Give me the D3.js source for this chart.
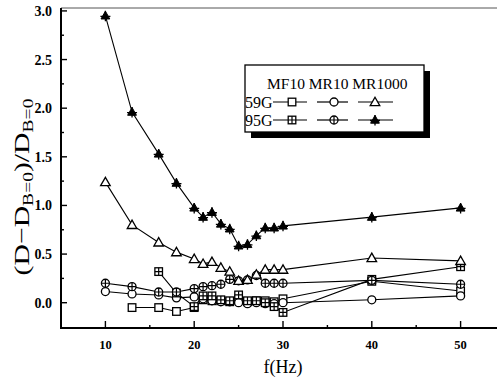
<!DOCTYPE html>
<html>
<head>
<meta charset="utf-8">
<script src="https://cdn.jsdelivr.net/npm/d3@7"></script>
<style>
  body{margin:0;background:#fff;}
  text{font-family:"Liberation Serif","DejaVu Serif",serif;fill:#000;}
</style>
</head>
<body>
<svg class="chart"></svg>
<script>
// frequencies (Hz)
var freqAll = [10,13,16,18,20,21,22,23,24,25,26,27,28,29,30,40,50];
var freqMF59 = [13,16,18,20,21,22,23,24,25,26,27,28,29,30,40,50];
var freqMF95 = [16,18,20,21,22,23,24,25,26,27,28,29,30,40,50];

// (D-D_B=0)/D_B=0 values
var mf10_59G = [-0.05,-0.05,-0.09,-0.05,0.03,0.02,0.02,0.01,0.03,0.01,0.02,0.02,0.01,0.04,0.22,0.12];
var mf10_95G = [0.32,0.10,-0.04,0.07,0.07,0.03,0.02,0.08,0.02,0.02,0.00,-0.04,-0.10,0.24,0.37];
var mr10_59G = [0.115,0.09,0.08,0.05,0.06,0.04,0.02,0.01,0.01,0.00,-0.01,0.00,-0.01,-0.01,0.00,0.03,0.07];
var mr10_95G = [0.20,0.165,0.11,0.11,0.145,0.165,0.175,0.19,0.24,0.225,0.235,0.28,0.20,0.20,0.20,0.23,0.19];
var mr1000_59G = [1.24,0.80,0.62,0.52,0.45,0.40,0.42,0.36,0.32,0.225,0.235,0.29,0.34,0.34,0.34,0.46,0.43];
var mr1000_95G = [2.95,1.96,1.53,1.23,0.975,0.88,0.93,0.81,0.76,0.585,0.60,0.69,0.77,0.77,0.79,0.88,0.975];

var xMajor = [10,20,30,40,50];
var xMinor = [15,25,35,45];
var yMajor = [0,0.5,1,1.5,2,2.5,3];
var yMinor = [0.25,0.75,1.25,1.75,2.25,2.75];

var legendCols = ["MF10 MR10 MR1000"];
var legendRows = ["59G","95G"];

var series = [
  {freq:freqMF59, vals:mf10_59G, mark:"square"},
  {freq:freqAll, vals:mr10_59G, mark:"circle"},
  {freq:freqMF95, vals:mf10_95G, mark:"squareX"},
  {freq:freqAll, vals:mr10_95G, mark:"circleX"},
  {freq:freqAll, vals:mr1000_59G, mark:"tri"},
  {freq:freqAll, vals:mr1000_95G, mark:"triX"}
];

var width = 497, height = 379;
var pLeft = 61, pRight = 505, pTop = 8, pBottom = 328;

var svg = d3.select(".chart").attr("width",width).attr("height",height);

var x = d3.scaleLinear().domain([5,55]).range([pLeft,pRight]);
var y = d3.scaleLinear().domain([-0.26,3.03]).range([pBottom,pTop]);

// frame
svg.append("line").attr("x1",pLeft).attr("x2",width).attr("y1",pTop).attr("y2",pTop)
  .attr("stroke","#555").attr("stroke-width",1);

// inward ticks
function ticksX(vals,len){
  svg.selectAll(null).data(vals).enter().append("line")
    .attr("x1",function(d){return x(d);}).attr("x2",function(d){return x(d);})
    .attr("y1",pBottom).attr("y2",pBottom-len)
    .attr("stroke","#000").attr("stroke-width",1.4);
}
function ticksY(vals,len){
  svg.selectAll(null).data(vals).enter().append("line")
    .attr("y1",function(d){return y(d);}).attr("y2",function(d){return y(d);})
    .attr("x1",pLeft).attr("x2",pLeft+len)
    .attr("stroke","#000").attr("stroke-width",1.4);
}
ticksX(xMajor,7);
ticksX(xMinor,3);
ticksY(yMajor,6);
ticksY(yMinor,3);

svg.append("line").attr("x1",pLeft-1).attr("x2",width).attr("y1",pBottom).attr("y2",pBottom)
  .attr("stroke","#000").attr("stroke-width",2);
svg.append("line").attr("x1",pLeft).attr("x2",pLeft).attr("y1",pTop).attr("y2",pBottom+1)
  .attr("stroke","#000").attr("stroke-width",2);

svg.selectAll(".xlab").data(xMajor).enter().append("text")
  .attr("class","xlab")
  .attr("x",function(d){return x(d);})
  .attr("y",pBottom+21)
  .attr("text-anchor","middle")
  .attr("font-size","12.5px")
  .attr("font-weight","bold")
  .text(function(d){return d;});

svg.selectAll(".ylab").data(yMajor).enter().append("text")
  .attr("class","ylab")
  .attr("x",pLeft-9)
  .attr("y",function(d){return y(d)+5;})
  .attr("text-anchor","end")
  .attr("font-size","14px")
  .attr("font-weight","bold")
  .text(function(d){return d3.format(".1f")(d);});

// axis titles
svg.append("text").attr("x",283).attr("y",373).attr("text-anchor","middle")
  .attr("font-size","18px").text("f(Hz)");

var yt = svg.append("text")
  .attr("transform","translate(29,187) rotate(-90) scale(1.35,1)")
  .attr("text-anchor","middle")
  .attr("font-size","22px");
yt.append("tspan").text("(D\u2212D");
yt.append("tspan").attr("font-size","14.5px").attr("dy",4).text("B=0");
yt.append("tspan").attr("dy",-4).text(")/D");
yt.append("tspan").attr("font-size","14.5px").attr("dy",4).text("B=0");

// marker drawing
function drawMark(g, type){
  if(type=="square" || type=="squareX"){
    g.append("rect").attr("x",-3.8).attr("y",-3.8).attr("width",7.6).attr("height",7.6)
      .attr("fill","#fff").attr("stroke","#000").attr("stroke-width",1.3);
    if(type=="squareX"){
      g.append("path").attr("d","M-3.8,0H3.8M0,-3.8V3.8").attr("stroke","#000").attr("stroke-width",1.2);
    }
  }else if(type=="circle" || type=="circleX"){
    g.append("circle").attr("r",4).attr("fill","#fff").attr("stroke","#000").attr("stroke-width",1.3);
    if(type=="circleX"){
      g.append("path").attr("d","M-4,0H4M0,-4V4").attr("stroke","#000").attr("stroke-width",1.2);
    }
  }else if(type=="tri"){
    g.append("path").attr("d","M0,-4.8L4.8,3.6L-4.8,3.6Z")
      .attr("fill","#fff").attr("stroke","#000").attr("stroke-width",1.3);
  }else if(type=="triX"){
    g.append("path").attr("d","M0,-4.6L4.4,3.2L-4.4,3.2Z")
      .attr("fill","#000").attr("stroke","#000").attr("stroke-width",1);
    g.append("path").attr("d","M-5,0.5H5M0,-5V5.5").attr("stroke","#000").attr("stroke-width",1.3);
  }
}

var line = d3.line()
  .x(function(d){return x(d[0]);})
  .y(function(d){return y(d[1]);});

series.forEach(function(s){
  var pts = s.freq.map(function(f,i){return [f, s.vals[i]];});
  svg.append("path").datum(pts).attr("d",line)
    .attr("fill","none").attr("stroke","#000").attr("stroke-width",1.1);
});
series.forEach(function(s){
  var pts = s.freq.map(function(f,i){return [f, s.vals[i]];});
  svg.selectAll(null).data(pts).enter().append("g")
    .attr("transform",function(d){return "translate("+x(d[0])+","+y(d[1])+")";})
    .each(function(){ drawMark(d3.select(this), s.mark); });
});

// legend
var lg = svg.append("g");
lg.append("rect").attr("x",251).attr("y",71).attr("width",179).attr("height",67).attr("fill","#000");
lg.append("rect").attr("x",245).attr("y",65).attr("width",179).attr("height",67)
  .attr("fill","#fff").attr("stroke","#000").attr("stroke-width",1.3);
lg.append("text").attr("x",267).attr("y",89).attr("font-size","15.5px").text(legendCols[0]);
var rowMarks = [["square","circle","tri"],["squareX","circleX","triX"]];
var segs = [[273,307,292],[317,348,334],[358,393,375]];
legendRows.forEach(function(r,ri){
  var yy = ri==0 ? 102 : 120;
  lg.append("text").attr("x",245).attr("y",yy+6).attr("font-size","16px").text(r);
  segs.forEach(function(sg,si){
    lg.append("line").attr("x1",sg[0]).attr("x2",sg[1]).attr("y1",yy).attr("y2",yy)
      .attr("stroke","#000").attr("stroke-width",1.2);
    drawMark(lg.append("g").attr("transform","translate("+sg[2]+","+yy+")"), rowMarks[ri][si]);
  });
});
</script>
</body>
</html>
